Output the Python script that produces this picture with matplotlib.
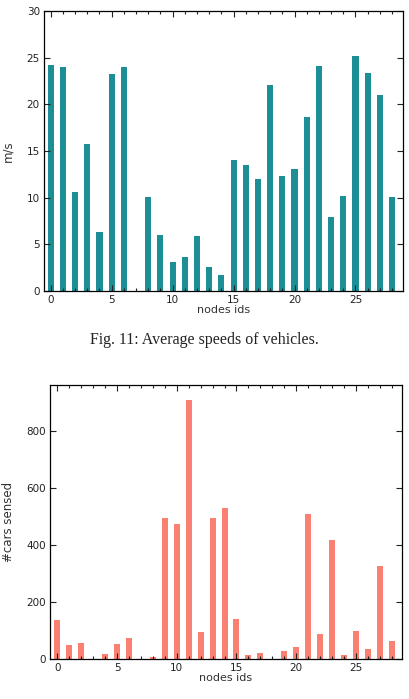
import matplotlib

matplotlib.use("Agg")
import matplotlib.pyplot as plt
import numpy as np
from matplotlib.ticker import MultipleLocator

# average speed per node (m/s); node 7 has no reading
node_ids = list(range(29))
speeds = [24.2, 24.05, 10.6, 15.8, 6.3, 23.2, 24.0, 0.0, 10.1, 6.0,
          3.1, 3.6, 5.85, 2.6, 1.75, 14.0, 13.5, 12.0, 22.05, 12.3,
          13.1, 18.65, 24.15, 7.9, 10.15, 25.15, 23.4, 21.0, 10.05]
# cars sensed per node
cars = [135, 50, 57, 0, 19, 54, 73, 0, 8, 494,
        474, 908, 94, 495, 530, 141, 14, 22, 0, 27,
        42, 508, 87, 417, 13, 97, 34, 326, 63]

speed_color = "#1b8e96"
cars_color = "#fa8072"


def style_axes(ax):
    ax.tick_params(which="both", direction="in", top=True, right=True,
                   labelsize=7.5, colors="#222222", pad=3)
    ax.tick_params(which="major", length=4, width=0.8)
    ax.tick_params(which="minor", length=2.5, width=0.8)
    ax.tick_params(axis="y", which="minor", left=False, right=False)
    ax.xaxis.set_major_locator(MultipleLocator(5))
    ax.xaxis.set_minor_locator(MultipleLocator(1))
    for s in ax.spines.values():
        s.set_linewidth(0.9)


fig = plt.figure(figsize=(4.09, 6.99), dpi=100)

ax1 = fig.add_axes([0.1076, 0.5837, 0.8778, 0.4006])
ax1.bar(node_ids, speeds, width=0.5, color=speed_color, linewidth=0)
ax1.set_xlim(-0.55, 28.9)
ax1.set_ylim(0, 30)
ax1.yaxis.set_major_locator(MultipleLocator(5))
style_axes(ax1)
ax1.set_xlabel("nodes ids", fontsize=8, color="#333333", labelpad=0)
ax1.set_ylabel("m/s", fontsize=8.5, color="#333333")
ax1.yaxis.set_label_coords(-0.082, 0.5)

fig.text(0.5, 0.514, "Fig. 11: Average speeds of vehicles.", ha="center", va="center",
         family="Liberation Serif", fontsize=11.4, color="#222222")

ax2 = fig.add_axes([0.1222, 0.0572, 0.8606, 0.392])
ax2.bar(node_ids, cars, width=0.5, color=cars_color, linewidth=0)
ax2.set_xlim(-0.61, 28.85)
ax2.set_ylim(0, 960)
ax2.yaxis.set_major_locator(MultipleLocator(200))
style_axes(ax2)
ax2.set_xlabel("nodes ids", fontsize=8, color="#333333", labelpad=0)
ax2.set_ylabel("#cars sensed", fontsize=8.5, color="#333333")
ax2.yaxis.set_label_coords(-0.098, 0.5)

fig.savefig("out.png", dpi=100)
